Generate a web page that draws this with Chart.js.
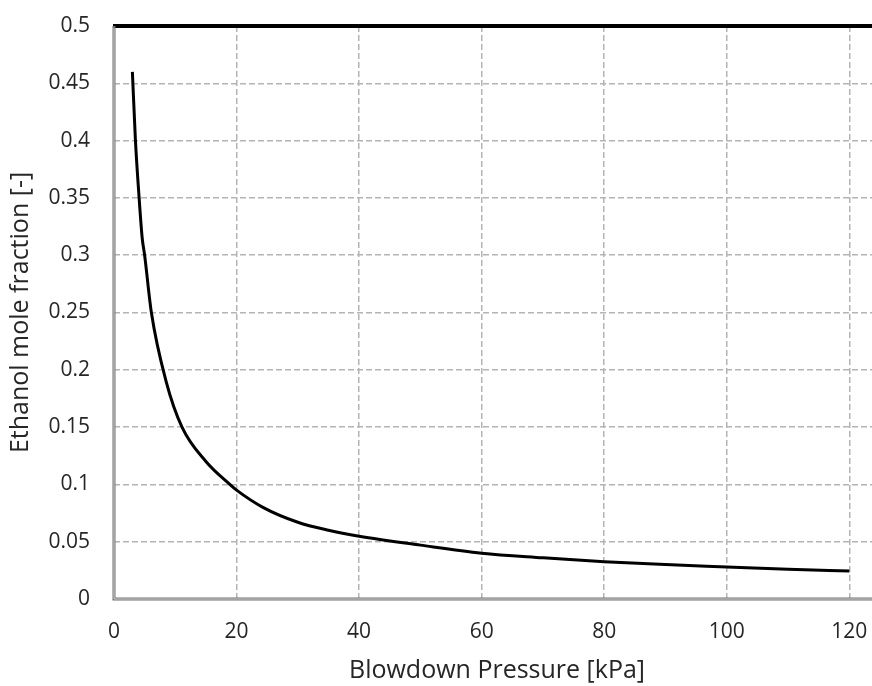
<!DOCTYPE html>
<html>
<head>
<meta charset="utf-8">
<script src="https://cdn.jsdelivr.net/npm/chart.js@4.4.0/dist/chart.umd.min.js"></script>
<style>
    html, body { margin: 0; padding: 0; background: #fff; overflow: hidden; }
    #wrap { position: absolute; left: 0; top: 0; width: 900px; height: 686px; }
</style>
</head>
<body>
<div id="wrap"><canvas id="chart" width="900" height="686"></canvas></div>
<script>
// Blowdown pressure [kPa] and ethanol mole fraction
const pressure = [3, 3.5, 4.1, 4.6, 5.0, 6.1, 8.5, 11.1, 15, 18.9, 20, 24.3, 30, 35, 40, 50, 60, 70, 80, 90, 100, 110, 120];
const moleFraction = [0.46, 0.40, 0.35, 0.315, 0.30, 0.25, 0.19, 0.15, 0.12, 0.10, 0.095, 0.080, 0.067, 0.060, 0.0548, 0.047, 0.040, 0.036, 0.0325, 0.030, 0.028, 0.026, 0.0245];

const xTicks = [0, 20, 40, 60, 80, 100, 120];
const yTicks = [0, 0.05, 0.1, 0.15, 0.2, 0.25, 0.3, 0.35, 0.4, 0.45, 0.5];

const FONT = "'Open Sans', sans-serif";
const TEXT = "#262626";

// frame: grey double line left/bottom, heavy black line on top
const framePlugin = {
    id: "frame",
    afterDraw(chart) {
        const { ctx, chartArea: a } = chart;
        ctx.save();
        ctx.lineCap = "butt";
        ctx.strokeStyle = "#000";
        ctx.lineWidth = 4;
        ctx.beginPath();
        ctx.moveTo(a.left - 1, a.top);
        ctx.lineTo(a.right + 20, a.top);
        ctx.stroke();

        ctx.strokeStyle = "#707070";
        ctx.lineWidth = 3;
        ctx.beginPath();
        ctx.moveTo(a.left, a.top);
        ctx.lineTo(a.left, a.bottom);
        ctx.lineTo(a.right + 20, a.bottom);
        ctx.stroke();

        ctx.strokeStyle = "#d8d8d8";
        ctx.lineWidth = 1;
        ctx.beginPath();
        ctx.moveTo(a.left, a.top + 2);
        ctx.lineTo(a.left, a.bottom);
        ctx.lineTo(a.right + 20, a.bottom);
        ctx.stroke();
        ctx.restore();
    }
};

const ctx = document.getElementById("chart").getContext("2d");
new Chart(ctx, {
    type: "scatter",
    data: {
        datasets: [{
            data: pressure.map((p, i) => ({ x: p, y: moleFraction[i] })),
            showLine: true,
            borderColor: "#000",
            borderWidth: 3,
            pointRadius: 0,
            cubicInterpolationMode: "monotone",
        }],
    },
    options: {
        responsive: false,
        animation: false,
        layout: { padding: { top: 26, left: 0, right: 20, bottom: 0 } },
        plugins: { legend: { display: false }, tooltip: { enabled: false } },
        scales: {
            x: {
                type: "linear",
                min: 0,
                max: 125,
                afterBuildTicks: (s) => { s.ticks = xTicks.map(v => ({ value: v })); },
                afterFit: (s) => { s.height = 87; s.paddingLeft = 0; s.paddingRight = 0; },
                grid: { color: "#b4b4b4", lineWidth: 1.5, drawTicks: false },
                border: { display: false, dash: [6, 3] },
                ticks: { color: TEXT, font: { family: FONT, size: 21 }, padding: 20, maxRotation: 0 },
                title: {
                    display: true,
                    text: "Blowdown Pressure [kPa]",
                    color: TEXT,
                    font: { family: FONT, size: 25 },
                    padding: { top: 4, bottom: 0 },
                },
            },
            y: {
                min: 0,
                max: 0.5,
                afterBuildTicks: (s) => { s.ticks = yTicks.map(v => ({ value: v })); },
                afterFit: (s) => { s.width = 114; s.paddingTop = 0; s.paddingBottom = 0; },
                grid: { color: "#b4b4b4", lineWidth: 1.5, drawTicks: false },
                border: { display: false, dash: [6, 3] },
                ticks: { color: TEXT, font: { family: FONT, size: 21 }, padding: 24, callback: (v) => String(v) },
                title: {
                    display: true,
                    text: "Ethanol mole fraction [-]",
                    color: TEXT,
                    font: { family: FONT, size: 25 },
                    padding: { top: 6, bottom: 0 },
                },
            },
        },
    },
    plugins: [framePlugin],
});
</script>
</body>
</html>
